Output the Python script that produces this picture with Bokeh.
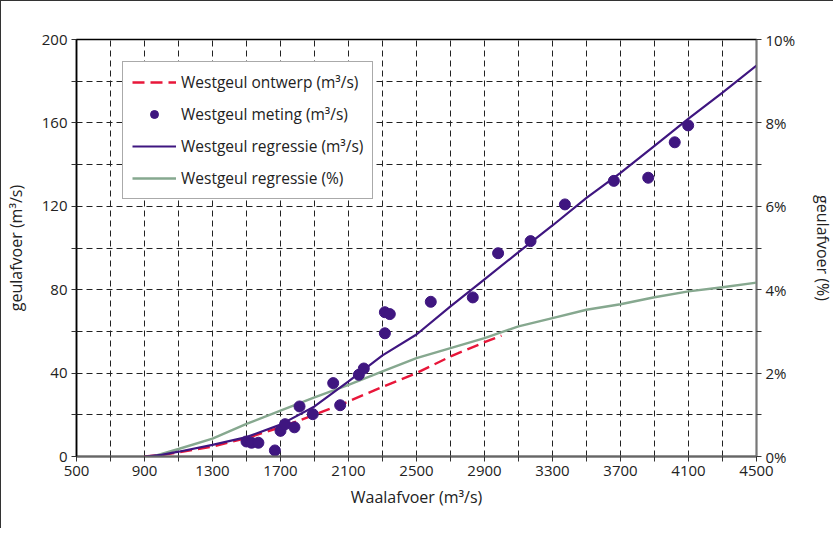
from bokeh.plotting import figure
from bokeh.models import (Range1d, LinearAxis, FixedTicker, Legend, LegendItem)
from bokeh.embed import file_html
from bokeh.resources import INLINE

# ---- data ----
meting_x = [1500, 1530, 1570, 1667, 1700, 1727, 1782, 1812, 1890, 2010, 2051,
            2161, 2190, 2314, 2314, 2343, 2584, 2831, 2980, 3171, 3373, 3661,
            3863, 4019, 4098]
meting_y = [7.2, 6.6, 6.6, 2.9, 12.3, 15.5, 14.0, 24.0, 20.3, 35.2, 24.6,
            39.2, 42.2, 59.1, 69.2, 68.3, 74.2, 76.3, 97.5, 103.3, 120.9, 132.2,
            133.7, 150.7, 158.8]

ontwerp_x = [900, 1000, 1100, 1300, 1500, 1700, 1900, 2100, 2300, 2500, 2700, 2900, 3000]
ontwerp_y = [0, 0.8, 2.0, 4.8, 8.8, 14.0, 20.0, 26.4, 33.4, 40.0, 48.0, 54.8, 58.0]

regr_x = [900, 1000, 1100, 1300, 1500, 1700, 1900, 2100, 2300, 2500, 2700, 2900,
          3100, 3300, 3500, 3700, 3900, 4100, 4300, 4500]
regr_y = [0, 0.8, 2.3, 5.6, 9.3, 15.3, 24.0, 36.0, 48.5, 58.5, 72.0, 85.0,
          98.0, 110.8, 124.0, 136.0, 149.0, 162.0, 174.5, 187.5]

pct_x = [950, 1100, 1300, 1500, 1700, 1900, 2100, 2300, 2500, 2700, 2900, 3100,
         3300, 3500, 3700, 3900, 4100, 4300, 4500]
pct_y = [0, 0.18, 0.43, 0.78, 1.1, 1.42, 1.72, 2.04, 2.36, 2.6, 2.84, 3.12,
         3.32, 3.52, 3.65, 3.82, 3.96, 4.06, 4.17]

x_major = [500, 900, 1300, 1700, 2100, 2500, 2900, 3300, 3700, 4100, 4500]
x_minor = [700, 1100, 1500, 1900, 2300, 2700, 3100, 3500, 3900, 4300]
y_major = [0, 40, 80, 120, 160, 200]
y_minor = [20, 60, 100, 140, 180]
p_major = [0, 2, 4, 6, 8, 10]
p_minor = [1, 3, 5, 7, 9]
p_labels = {0: "0%", 2: "2%", 4: "4%", 6: "6%", 8: "8%", 10: "10%"}

FONT = "Open Sans"
RED = "#e8173a"
PURPLE = "#3f1680"
GREEN = "#86a88f"

p = figure(frame_width=680, frame_height=417, output_backend="svg",
           toolbar_location=None, x_range=Range1d(500, 4500),
           y_range=Range1d(0, 200),
           min_border_left=70, min_border_top=38, min_border_right=76,
           min_border_bottom=72)
p.extra_y_ranges = {"pct": Range1d(0, 10)}
p.background_fill_color = "white"
p.border_fill_color = "white"
p.outline_line_color = "black"
p.outline_line_width = 1.5
p.styles = {"border-left": "1.5px solid #333", "border-top": "1.5px solid #333"}

# axes
xa = p.xaxis[0]
xa.ticker = FixedTicker(ticks=x_major, minor_ticks=x_minor)
xa.axis_label = "Waalafvoer (m³/s)"
ya = p.yaxis[0]
ya.ticker = FixedTicker(ticks=y_major, minor_ticks=y_minor)
ya.axis_label = "geulafvoer (m³/s)"

ra = LinearAxis(y_range_name="pct", axis_label="geulafvoer (%)",
                ticker=FixedTicker(ticks=p_major, minor_ticks=p_minor),
                major_label_overrides=p_labels)
p.add_layout(ra, "right")

for ax in (xa, ya, ra):
    ax.major_label_text_font = FONT
    ax.major_label_text_font_size = "15px"
    ax.major_label_text_color = "#222"
    ax.axis_label_text_font = FONT
    ax.axis_label_text_font_size = "16px"
    ax.axis_label_text_font_style = "normal"
    ax.axis_label_text_color = "#222"
    ax.major_tick_in = 0
    ax.major_tick_out = 5
    ax.minor_tick_in = 0
    ax.minor_tick_out = 5
    ax.major_tick_line_color = "#333"
    ax.minor_tick_line_color = "#333"
    ax.major_label_standoff = 4

xa.axis_line_color = "#666"
xa.axis_line_width = 2
xa.axis_label_standoff = 7
ya.axis_line_color = "black"
ya.axis_line_width = 1.5
ya.axis_label_standoff = 12
ra.axis_line_color = "#777"
ra.axis_line_width = 1.5
ra.axis_label_standoff = 14

for g in (p.xgrid[0], p.ygrid[0]):
    g.grid_line_color = "#222"
    g.grid_line_dash = "6 4"
    g.grid_line_width = 1
    g.minor_grid_line_color = "#222"
    g.minor_grid_line_dash = "6 4"
    g.minor_grid_line_width = 1

# glyphs
r_ontwerp = p.line(ontwerp_x, ontwerp_y, line_color=RED, line_width=2.4,
                   line_dash="12 6")
r_pct = p.line(pct_x, pct_y, y_range_name="pct", line_color=GREEN, line_width=2.4)
r_regr = p.line(regr_x, regr_y, line_color=PURPLE, line_width=2.2)
r_meting = p.scatter(meting_x, meting_y, size=11, fill_color=PURPLE,
                     line_color=PURPLE)

legend = Legend(items=[
    LegendItem(label="Westgeul ontwerp (m³/s)", renderers=[r_ontwerp]),
    LegendItem(label="Westgeul meting (m³/s)", renderers=[r_meting]),
    LegendItem(label="Westgeul regressie (m³/s)", renderers=[r_regr]),
    LegendItem(label="Westgeul regressie (%)", renderers=[r_pct]),
], location=(46, 257))
legend.label_text_font = FONT
legend.label_text_font_size = "15.5px"
legend.label_text_color = "#222"
legend.glyph_width = 44
legend.glyph_height = 20
legend.label_height = 20
legend.spacing = 10
legend.padding = 9
legend.label_standoff = 5
legend.border_line_color = "#555"
legend.border_line_width = 1.2
legend.background_fill_alpha = 1
p.add_layout(legend, "center")

open("out.html", "w").write(file_html(p, INLINE))
